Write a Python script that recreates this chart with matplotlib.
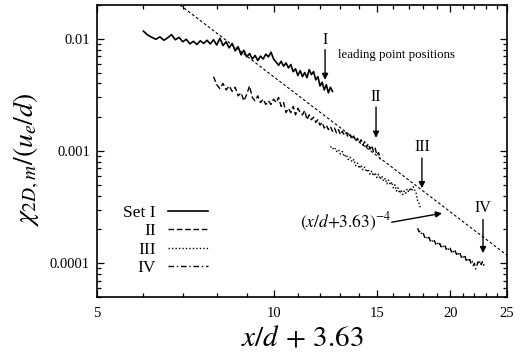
import matplotlib
matplotlib.use("Agg")
import matplotlib.pyplot as plt
import numpy as np
from matplotlib.ticker import FixedLocator, NullFormatter, FixedFormatter

plt.rcParams['font.family'] = ['Liberation Serif', 'DejaVu Serif']
plt.rcParams['mathtext.fontset'] = 'stix'

# ---- data: x/d + 3.63 vs chi_2D,m / (u_e/d) ----
set1_x = [6.0, 6.1, 6.2, 6.3, 6.4, 6.5, 6.6, 6.7, 6.8, 6.9, 7.0, 7.1, 7.2, 7.3, 7.4,
          7.5, 7.6, 7.7, 7.8, 7.9, 8.0, 8.1, 8.2, 8.3, 8.4, 8.5, 8.6, 8.7, 8.8, 8.9,
          9.0, 9.1, 9.2, 9.3, 9.4, 9.5, 9.6, 9.7, 9.8, 9.9, 10.0, 10.1, 10.2, 10.3,
          10.4, 10.5, 10.6, 10.7, 10.8, 10.9, 11.0, 11.1, 11.2, 11.3, 11.4, 11.5,
          11.6, 11.7, 11.8, 11.9, 12.0, 12.1, 12.2, 12.3, 12.4, 12.5, 12.6]
set1_y = [0.0117, 0.0108, 0.0103, 0.0099, 0.0104, 0.0097, 0.0102, 0.0109, 0.0098,
          0.0103, 0.0094, 0.0099, 0.0090, 0.0095, 0.0089, 0.0096, 0.0091, 0.0097,
          0.0090, 0.0098, 0.0088, 0.0101, 0.0087, 0.0094, 0.0083, 0.0091, 0.0078,
          0.0085, 0.0072, 0.0079, 0.0069, 0.0074, 0.0066, 0.0071, 0.0064, 0.0070,
          0.0066, 0.0073, 0.0069, 0.0076, 0.0066, 0.0062, 0.0058, 0.0063, 0.0057,
          0.0061, 0.0055, 0.0059, 0.0051, 0.0054, 0.0047, 0.0052, 0.0046, 0.0050,
          0.0045, 0.0053, 0.0048, 0.0051, 0.0043, 0.0046, 0.0038, 0.0041, 0.0035,
          0.0039, 0.0033, 0.0037, 0.0034]

set2_x = [7.9, 8.0, 8.1, 8.2, 8.3, 8.4, 8.5, 8.6, 8.7, 8.8, 8.9, 9.0, 9.1, 9.2, 9.3,
          9.4, 9.5, 9.6, 9.7, 9.8, 9.9, 10.0, 10.1, 10.2, 10.3, 10.4, 10.5, 10.6,
          10.7, 10.8, 10.9, 11.0, 11.1, 11.2, 11.3, 11.4, 11.5, 11.6, 11.7, 11.8,
          11.9, 12.0, 12.1, 12.2, 12.3, 12.4, 12.5, 12.6, 12.7, 12.8, 12.9, 13.0,
          13.1, 13.2, 13.3, 13.4, 13.5, 13.6, 13.7, 13.8, 13.9, 14.0, 14.1, 14.2,
          14.3, 14.4, 14.5, 14.6, 14.7, 14.8, 14.9, 15.0, 15.1, 15.2]
set2_y = [0.0046, 0.0039, 0.0036, 0.0040, 0.0035, 0.0038, 0.0034, 0.0037, 0.0031,
          0.0033, 0.0028, 0.0032, 0.0038, 0.0030, 0.0028, 0.0031, 0.0027, 0.0029,
          0.0026, 0.0028, 0.0026, 0.0029, 0.0027, 0.0030, 0.0025, 0.0027, 0.0022,
          0.0024, 0.0022, 0.0025, 0.0021, 0.0024, 0.0022, 0.0021, 0.0023, 0.0019,
          0.0021, 0.0019, 0.0020, 0.0018, 0.0019, 0.0017, 0.0018, 0.0016, 0.0017,
          0.00155, 0.00165, 0.0015, 0.0016, 0.00145, 0.00155, 0.0014, 0.0015,
          0.00138, 0.00146, 0.00132, 0.0014, 0.00127, 0.00136, 0.00122, 0.0013,
          0.00118, 0.00126, 0.00113, 0.00121, 0.00108, 0.00116, 0.00104, 0.00112,
          0.00099, 0.00106, 0.00092, 0.00097, 0.00084]

set3_x = [12.5, 12.6, 12.7, 12.8, 12.9, 13.0, 13.1, 13.2, 13.3, 13.4, 13.5, 13.6,
          13.7, 13.8, 13.9, 14.0, 14.1, 14.2, 14.3, 14.4, 14.5, 14.6, 14.7, 14.8,
          14.9, 15.0, 15.1, 15.2, 15.3, 15.4, 15.5, 15.6, 15.7, 15.8, 15.9, 16.0,
          16.1, 16.2, 16.3, 16.4, 16.5, 16.6, 16.7, 16.8, 16.9, 17.0, 17.1, 17.2,
          17.3, 17.4, 17.5, 17.6, 17.7, 17.8]
set3_y = [0.00110, 0.00104, 0.00108, 0.00099, 0.00103, 0.00094, 0.00099, 0.00089,
          0.00093, 0.00084, 0.00088, 0.00080, 0.00084, 0.00074, 0.00078, 0.00070,
          0.00075, 0.00068, 0.00072, 0.00065, 0.00069, 0.00062, 0.00066, 0.00060,
          0.00064, 0.00058, 0.00062, 0.00056, 0.00060, 0.00054, 0.00057, 0.00051,
          0.00055, 0.00050, 0.00053, 0.00047, 0.00050, 0.00044, 0.00047, 0.00042,
          0.00045, 0.00041, 0.00044, 0.00042, 0.00046, 0.00043, 0.00047, 0.00044,
          0.00048, 0.00045, 0.00042, 0.00036, 0.00034, 0.00031]

set4_x = [17.6, 17.7, 17.8, 17.9, 18.0, 18.1, 18.2, 18.3, 18.4, 18.5, 18.6, 18.7,
          18.8, 18.9, 19.0, 19.1, 19.2, 19.3, 19.4, 19.5, 19.6, 19.7, 19.8, 19.9,
          20.0, 20.1, 20.2, 20.3, 20.4, 20.5, 20.6, 20.7, 20.8, 20.9, 21.0, 21.1,
          21.2, 21.3, 21.4, 21.5, 21.6, 21.7, 21.8, 21.9, 22.0, 22.1, 22.2, 22.3,
          22.4, 22.5, 22.6, 22.7, 22.8, 22.9]
set4_y = [0.000205, 0.000190, 0.000196, 0.000178, 0.000184, 0.000170, 0.000176,
          0.000163, 0.000170, 0.000158, 0.000164, 0.000152, 0.000159, 0.000148,
          0.000155, 0.000144, 0.000150, 0.000140, 0.000146, 0.000137, 0.000143,
          0.000133, 0.000139, 0.000130, 0.000136, 0.000126, 0.000132, 0.000123,
          0.000129, 0.000120, 0.000126, 0.000117, 0.000122, 0.000113, 0.000118,
          0.000110, 0.000115, 0.000106, 0.000111, 0.000103, 0.000108, 0.000099,
          0.000104, 0.000095, 0.000100, 0.000089, 0.000094, 0.000103, 0.000098,
          0.000105, 0.000097, 0.000103, 0.000096, 0.000101]

set_labels = ["Set I", "II", "III", "IV"]

# power-law reference line C * (x/d + 3.63)^-4
power_coef = 46.0
power_exp = -4.0

x_major = [5, 10, 15, 20, 25]
x_major_labels = ["5", "10", "15", "20", "25"]
y_major = [0.0001, 0.001, 0.01]
y_major_labels = ["0.0001", "0.001", "0.01"]

fig = plt.figure(figsize=(5.22, 3.57), dpi=100)
ax = fig.add_axes([0.1858, 0.168, 0.7855, 0.818])
ax.set_xscale('log')
ax.set_yscale('log')
ax.set_xlim(5, 25)
ax.set_ylim(5e-5, 0.02)

l1, = ax.plot(set1_x, set1_y, color='black', lw=1.2, ls='-')
l2, = ax.plot(set2_x, set2_y, color='black', lw=1.0, ls=(0, (4, 2)))
l3, = ax.plot(set3_x, set3_y, color='black', lw=1.0, ls=(0, (1, 1.5)))
l4, = ax.plot(set4_x, set4_y, color='black', lw=1.0, ls=(0, (4, 2, 1, 2)))

xl = np.geomspace(5, 25, 200)
ax.plot(xl, power_coef * xl ** power_exp, color='black', lw=0.8,
        ls=(0, (2.5, 2)))

# ticks
ax.xaxis.set_major_locator(FixedLocator(x_major))
ax.xaxis.set_major_formatter(FixedFormatter(x_major_labels))
ax.xaxis.set_minor_locator(FixedLocator([v for v in range(6, 25) if v not in x_major]))
ax.xaxis.set_minor_formatter(NullFormatter())
ax.yaxis.set_major_locator(FixedLocator(y_major))
ax.yaxis.set_major_formatter(FixedFormatter(y_major_labels))
ax.yaxis.set_minor_locator(FixedLocator(
    [m * 10.0 ** e for e in (-5, -4, -3, -2) for m in range(2, 10)]))
ax.yaxis.set_minor_formatter(NullFormatter())
ax.tick_params(which='both', direction='in', top=True, right=True,
               labelsize=10.5, width=0.9)
ax.tick_params(axis='y', pad=5)
ax.tick_params(axis='x', pad=7)
ax.tick_params(which='major', length=5)
ax.tick_params(which='minor', length=3)
for sp in ax.spines.values():
    sp.set_linewidth(1.2)

ax.set_xlabel(r'$x/d\, +\, 3.63$', fontsize=21, labelpad=4)
ax.set_ylabel(r'$\chi_{2D,m}/(u_e/d)$', fontsize=20)
ax.yaxis.set_label_coords(-0.135, 0.47)

# leading point markers
arrow = dict(arrowstyle='-|>', color='black', lw=1.0, mutation_scale=9,
             shrinkA=0, shrinkB=0)
marks = [("I", 12.24, 0.0098, 0.0080, 0.0043),
         ("II", 14.95, 0.00303, 0.00247, 0.00131),
         ("III", 17.9, 0.00109, 0.000866, 0.000466),
         ("IV", 22.75, 0.00031, 0.000245, 0.000123)]
for name, mx, ty, y0, y1 in marks:
    ax.text(mx, ty, name, ha='center', va='center', fontsize=11.5)
    ax.annotate('', xy=(mx, y1), xytext=(mx, y0), arrowprops=arrow)

ax.text(12.88, 0.0072, "leading point positions", ha='left', va='center',
        fontsize=9.3)
ax.annotate('', xy=(19.37, 0.000279), xytext=(15.9, 0.000232), arrowprops=arrow)
ax.text(15.9, 0.000232, r'$(x/d{+}3.63)^{-4}$', ha='right', va='center',
        fontsize=12.5)

ax.legend([l1, l2, l3, l4], set_labels, loc='upper right',
          bbox_to_anchor=(0.27, 0.315), frameon=False, markerfirst=False,
          fontsize=12.5, handlelength=2.3, handletextpad=0.7, labelspacing=0.12,
          borderaxespad=0, borderpad=0)

fig.savefig('out.png', dpi=100)
